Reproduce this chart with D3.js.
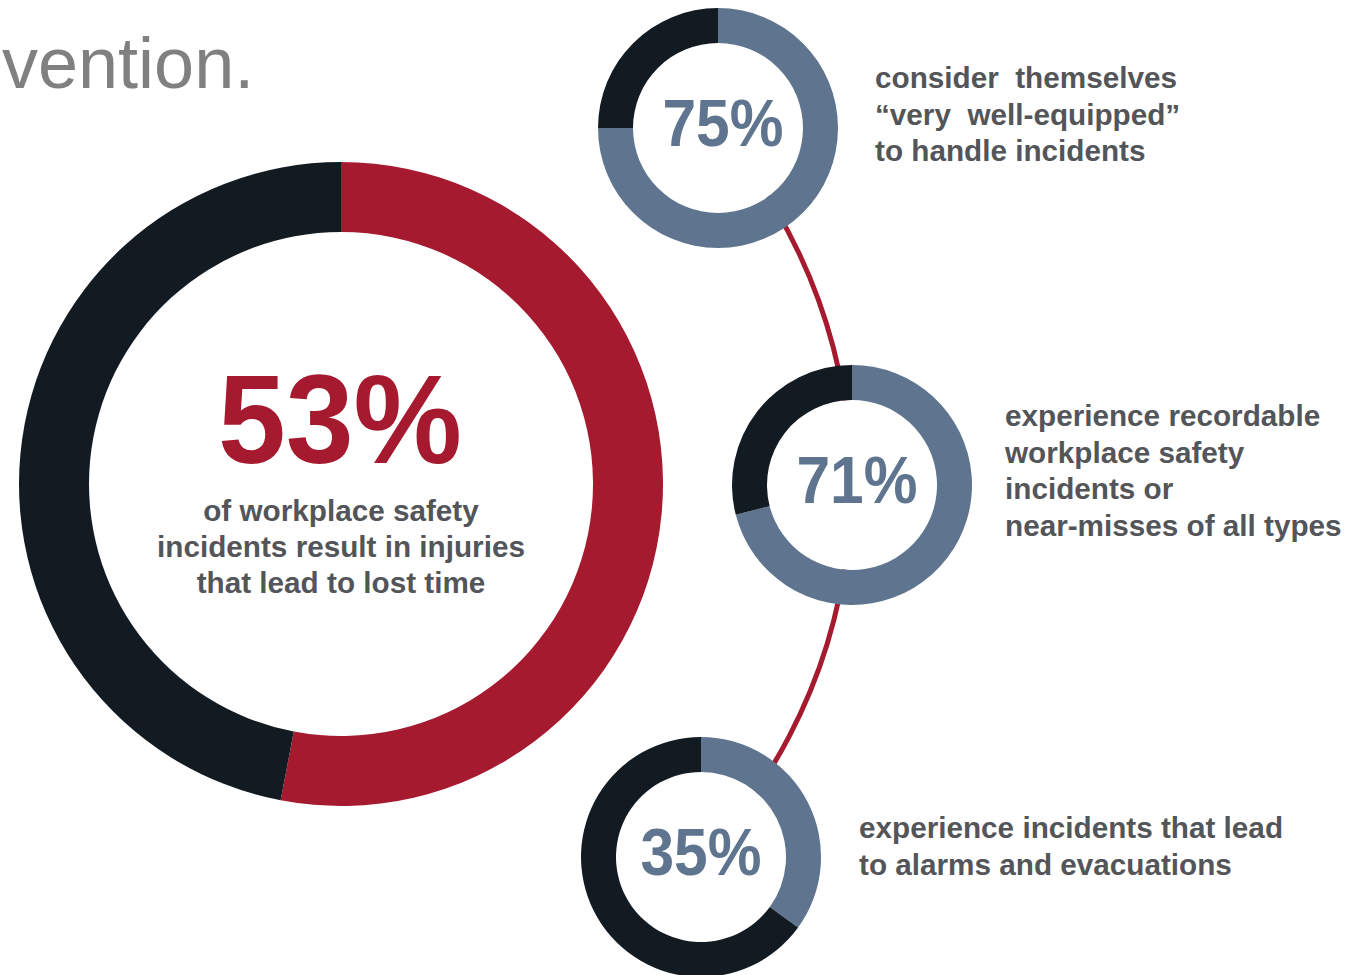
<!DOCTYPE html>
<html>
<head>
<meta charset="utf-8">
<script src="https://cdn.jsdelivr.net/npm/d3@7"></script>
<style>
  body { margin: 0; background: #fff; }
  svg text { font-family: "Liberation Sans", Arial, sans-serif; }
</style>
</head>
<body>
<div id="chart"></div>
<script>
// chart values
var mainValue = 53;
var mainLines = ["of workplace safety", "incidents result in injuries", "that lead to lost time"];

var smallValues = [75, 71, 35];
var smallLabels = [
  ["consider  themselves", "\u201cvery  well-equipped\u201d", "to handle incidents"],
  ["experience recordable", "workplace safety", "incidents or", "near-misses of all types"],
  ["experience incidents that lead", "to alarms and evacuations"]
];

// colours
var red = "#a51a2e";
var navy = "#121a22";
var slate = "#5f758f";
var grey = "#535559";

// layout
var width = 1357, height = 975;
var bigCenter = [341, 484];
var smallCenters = [[718, 128], [852, 485], [701, 857]];
var pctShift = [5, 5, 0];
var labelX = [875, 1005, 859];
var labelTop = [88, 426, 838];
var lineGap = 36.5;

var svg = d3.select("#chart")
            .append("svg")
            .attr("width", width)
            .attr("height", height);

// heading fragment cut off on the left
svg.append("text")
   .attr("x", 2)
   .attr("y", 88)
   .attr("font-size", 72)
   .attr("fill", "#808080")
   .text("vention.");

var pie = d3.pie().sort(null).value(function(d){ return d; });

// connecting arc, centred left of the big donut, runs through the small donuts
var linkCenter = [309, 485];
var linkR = 542;
var angleOf = function(p){
  return Math.atan2(p[0] - linkCenter[0], -(p[1] - linkCenter[1]));
};
svg.append("path")
   .attr("transform", "translate(" + linkCenter + ")")
   .attr("fill", red)
   .attr("d", d3.arc()
                .innerRadius(linkR - 2.5)
                .outerRadius(linkR + 2.5)
                .startAngle(angleOf(smallCenters[0]))
                .endAngle(angleOf(smallCenters[2]))());

// big donut
var big = svg.append("g")
             .attr("transform", "translate(" + bigCenter + ")");

var bigArc = d3.arc().innerRadius(252).outerRadius(322);

big.selectAll("path")
   .data(pie([mainValue, 100 - mainValue]))
   .enter()
   .append("path")
   .attr("d", bigArc)
   .attr("fill", function(d, i){ return i == 0 ? red : navy; });

big.append("text")
   .attr("x", -1)
   .attr("y", -21)
   .attr("text-anchor", "middle")
   .attr("font-size", 126)
   .attr("font-weight", "bold")
   .attr("fill", red)
   .attr("textLength", 244)
   .attr("lengthAdjust", "spacingAndGlyphs")
   .text(mainValue + "%");

big.selectAll(".sub")
   .data(mainLines)
   .enter()
   .append("text")
   .attr("class", "sub")
   .attr("x", 0)
   .attr("y", function(d, i){ return 37 + i * 36; })
   .attr("text-anchor", "middle")
   .attr("font-size", 29.7)
   .attr("font-weight", "bold")
   .attr("fill", grey)
   .text(function(d){ return d; });

// small donuts
var smallArc = d3.arc().innerRadius(85).outerRadius(120);

smallValues.forEach(function(v, k){
  var g = svg.append("g")
             .attr("transform", "translate(" + smallCenters[k] + ")");

  g.append("circle").attr("r", 85).attr("fill", "#fff");

  g.selectAll("path")
   .data(pie([v, 100 - v]))
   .enter()
   .append("path")
   .attr("d", smallArc)
   .attr("fill", function(d, i){ return i == 0 ? slate : navy; });

  g.append("text")
   .attr("x", pctShift[k])
   .attr("y", 18)
   .attr("text-anchor", "middle")
   .attr("font-size", 66)
   .attr("font-weight", "bold")
   .attr("fill", slate)
   .attr("textLength", 121)
   .attr("lengthAdjust", "spacingAndGlyphs")
   .text(v + "%");

  svg.selectAll(".lab" + k)
     .data(smallLabels[k])
     .enter()
     .append("text")
     .attr("class", "lab" + k)
     .attr("x", labelX[k])
     .attr("y", function(d, i){ return labelTop[k] + i * lineGap; })
     .attr("font-size", 29.7)
     .attr("font-weight", "bold")
     .attr("fill", grey)
     .style("white-space", "pre")
     .text(function(d){ return d; });
});
</script>
</body>
</html>
